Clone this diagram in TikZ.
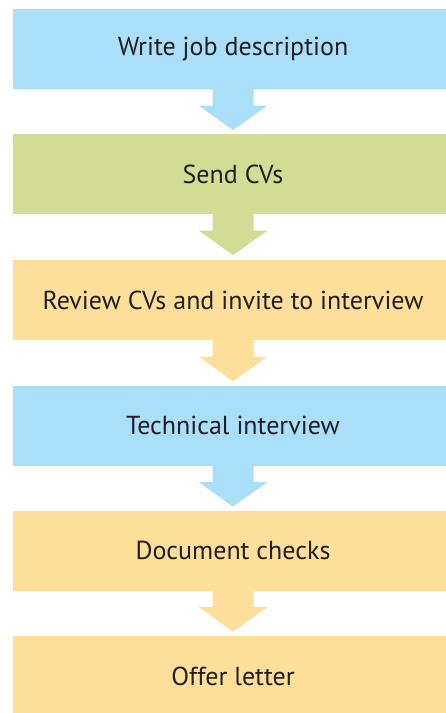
\documentclass[tikz,border=0pt]{standalone}
\usepackage{fontspec}
\setmainfont{PT Sans}
\definecolor{cblue}{RGB}{169,223,249}
\definecolor{cgreen}{RGB}{211,220,149}
\definecolor{cyellow}{RGB}{253,223,154}
\definecolor{ctext}{RGB}{35,31,32}
\tikzset{
  stepbox/.style={minimum width=440pt, minimum height=80pt, inner sep=0pt,
    text=ctext, font=\fontsize{26}{30}\selectfont}
}
\newcommand{\flowarrow}[2]{%
  \fill[#2] ([xshift=-20.5pt]#1.south) -- ++(0,-16.5pt) -- ++(-13.5pt,0) -- ([yshift=-41pt]#1.south) -- ([xshift=34pt,yshift=-16.5pt]#1.south) -- ++(-13.5pt,0) -- ([xshift=20.5pt]#1.south) -- cycle;}
\begin{document}
\begin{tikzpicture}[x=1pt,y=1pt]
\useasboundingbox (0,0) rectangle (446,-713);
\begin{scope}
\clip (0,0) rectangle (446,-713);
\node[stepbox, fill=cblue] (b1) at (233,-49) {Write job description};
\node[stepbox, fill=cgreen] (b2) at (233,-174) {Send CVs};
\node[stepbox, fill=cyellow] (b3) at (233,-300) {Review CVs and invite to interview};
\node[stepbox, fill=cblue] (b4) at (233,-425.5) {Technical interview};
\node[stepbox, fill=cyellow] (b5) at (233,-550.5) {Document checks};
\node[stepbox, fill=cyellow] (b6) at (233,-676) {Offer letter};
\flowarrow{b1}{cblue}
\flowarrow{b2}{cgreen}
\flowarrow{b3}{cyellow}
\flowarrow{b4}{cblue}
\flowarrow{b5}{cyellow}
\end{scope}
\end{tikzpicture}
\end{document}
